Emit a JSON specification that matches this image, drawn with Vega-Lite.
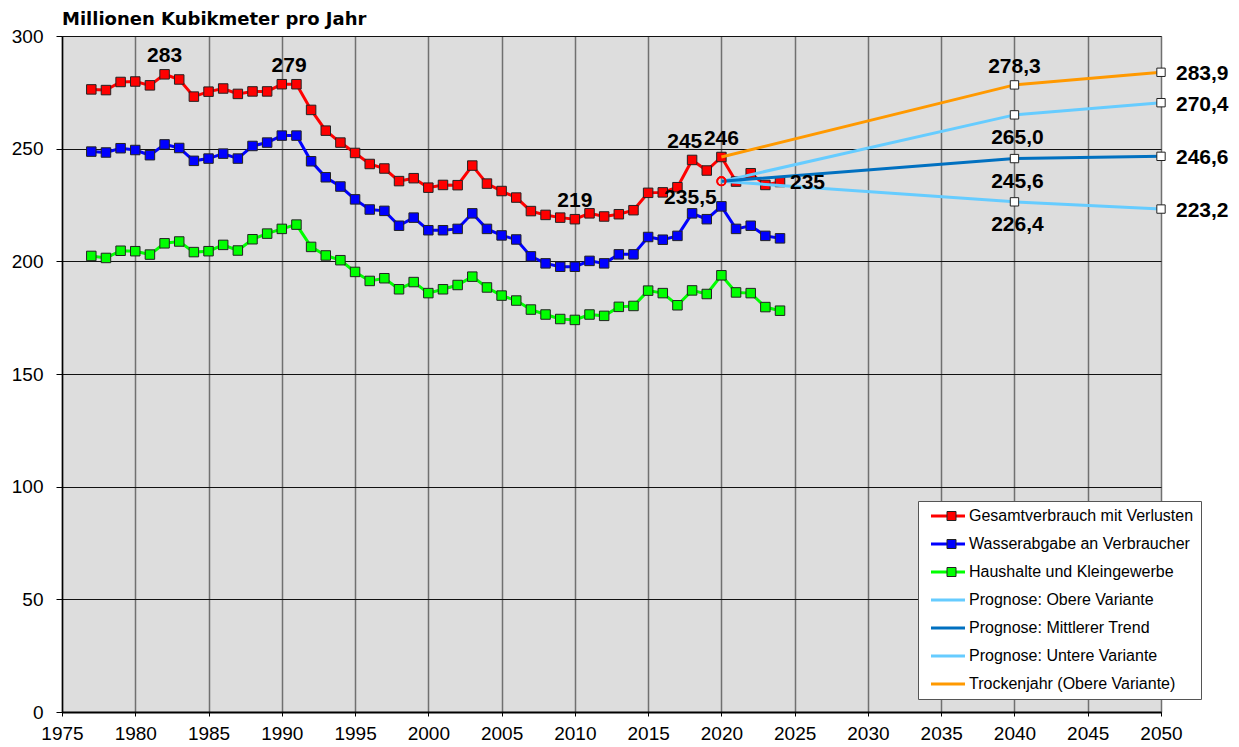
{
  "$schema": "https://vega.github.io/schema/vega-lite/v6.json",
  "width": 1099,
  "height": 676,
  "autosize": "none",
  "padding": {"left": 62, "top": 36, "right": 78, "bottom": 35},
  "background": "white",
  "title": {"text": "Millionen Kubikmeter pro Jahr", "anchor": "start", "frame": "group", "font": "DejaVu Sans", "fontSize": 18, "fontWeight": "bold", "color": "black", "baseline": "alphabetic", "offset": -16},
  "config": {
    "view": {"fill": "#dddddd", "stroke": "#555555", "strokeWidth": 1},
    "axis": {"title": null, "grid": true, "gridOpacity": 1, "domainColor": "black", "tickColor": "black", "labelFont": "Liberation Sans", "labelFontSize": 19, "labelColor": "black", "labelFlush": false, "labelOverlap": false}
  },
  "datasets": {
    "hist": [
      {"series": "Gesamtverbrauch mit Verlusten", "year": 1977, "value": 276.3},
      {"series": "Gesamtverbrauch mit Verlusten", "year": 1978, "value": 276.0},
      {"series": "Gesamtverbrauch mit Verlusten", "year": 1979, "value": 279.6},
      {"series": "Gesamtverbrauch mit Verlusten", "year": 1980, "value": 279.8},
      {"series": "Gesamtverbrauch mit Verlusten", "year": 1981, "value": 278.1},
      {"series": "Gesamtverbrauch mit Verlusten", "year": 1982, "value": 283.0},
      {"series": "Gesamtverbrauch mit Verlusten", "year": 1983, "value": 280.7},
      {"series": "Gesamtverbrauch mit Verlusten", "year": 1984, "value": 273.1},
      {"series": "Gesamtverbrauch mit Verlusten", "year": 1985, "value": 275.3},
      {"series": "Gesamtverbrauch mit Verlusten", "year": 1986, "value": 276.7},
      {"series": "Gesamtverbrauch mit Verlusten", "year": 1987, "value": 274.3},
      {"series": "Gesamtverbrauch mit Verlusten", "year": 1988, "value": 275.4},
      {"series": "Gesamtverbrauch mit Verlusten", "year": 1989, "value": 275.4},
      {"series": "Gesamtverbrauch mit Verlusten", "year": 1990, "value": 278.6},
      {"series": "Gesamtverbrauch mit Verlusten", "year": 1991, "value": 278.6},
      {"series": "Gesamtverbrauch mit Verlusten", "year": 1992, "value": 267.2},
      {"series": "Gesamtverbrauch mit Verlusten", "year": 1993, "value": 258.0},
      {"series": "Gesamtverbrauch mit Verlusten", "year": 1994, "value": 252.7},
      {"series": "Gesamtverbrauch mit Verlusten", "year": 1995, "value": 248.1},
      {"series": "Gesamtverbrauch mit Verlusten", "year": 1996, "value": 243.2},
      {"series": "Gesamtverbrauch mit Verlusten", "year": 1997, "value": 241.2},
      {"series": "Gesamtverbrauch mit Verlusten", "year": 1998, "value": 235.6},
      {"series": "Gesamtverbrauch mit Verlusten", "year": 1999, "value": 236.9},
      {"series": "Gesamtverbrauch mit Verlusten", "year": 2000, "value": 232.7},
      {"series": "Gesamtverbrauch mit Verlusten", "year": 2001, "value": 233.9},
      {"series": "Gesamtverbrauch mit Verlusten", "year": 2002, "value": 233.8},
      {"series": "Gesamtverbrauch mit Verlusten", "year": 2003, "value": 242.5},
      {"series": "Gesamtverbrauch mit Verlusten", "year": 2004, "value": 234.5},
      {"series": "Gesamtverbrauch mit Verlusten", "year": 2005, "value": 231.2},
      {"series": "Gesamtverbrauch mit Verlusten", "year": 2006, "value": 228.3},
      {"series": "Gesamtverbrauch mit Verlusten", "year": 2007, "value": 222.3},
      {"series": "Gesamtverbrauch mit Verlusten", "year": 2008, "value": 220.6},
      {"series": "Gesamtverbrauch mit Verlusten", "year": 2009, "value": 219.4},
      {"series": "Gesamtverbrauch mit Verlusten", "year": 2010, "value": 218.7},
      {"series": "Gesamtverbrauch mit Verlusten", "year": 2011, "value": 221.3},
      {"series": "Gesamtverbrauch mit Verlusten", "year": 2012, "value": 219.9},
      {"series": "Gesamtverbrauch mit Verlusten", "year": 2013, "value": 220.9},
      {"series": "Gesamtverbrauch mit Verlusten", "year": 2014, "value": 222.7},
      {"series": "Gesamtverbrauch mit Verlusten", "year": 2015, "value": 230.4},
      {"series": "Gesamtverbrauch mit Verlusten", "year": 2016, "value": 230.6},
      {"series": "Gesamtverbrauch mit Verlusten", "year": 2017, "value": 232.9},
      {"series": "Gesamtverbrauch mit Verlusten", "year": 2018, "value": 245.0},
      {"series": "Gesamtverbrauch mit Verlusten", "year": 2019, "value": 240.3},
      {"series": "Gesamtverbrauch mit Verlusten", "year": 2020, "value": 246.3},
      {"series": "Gesamtverbrauch mit Verlusten", "year": 2021, "value": 235.4},
      {"series": "Gesamtverbrauch mit Verlusten", "year": 2022, "value": 239.1},
      {"series": "Gesamtverbrauch mit Verlusten", "year": 2023, "value": 233.9},
      {"series": "Gesamtverbrauch mit Verlusten", "year": 2024, "value": 235.2},
      {"series": "Wasserabgabe an Verbraucher", "year": 1977, "value": 248.7},
      {"series": "Wasserabgabe an Verbraucher", "year": 1978, "value": 248.3},
      {"series": "Wasserabgabe an Verbraucher", "year": 1979, "value": 250.2},
      {"series": "Wasserabgabe an Verbraucher", "year": 1980, "value": 249.4},
      {"series": "Wasserabgabe an Verbraucher", "year": 1981, "value": 247.1},
      {"series": "Wasserabgabe an Verbraucher", "year": 1982, "value": 251.9},
      {"series": "Wasserabgabe an Verbraucher", "year": 1983, "value": 250.3},
      {"series": "Wasserabgabe an Verbraucher", "year": 1984, "value": 244.6},
      {"series": "Wasserabgabe an Verbraucher", "year": 1985, "value": 245.6},
      {"series": "Wasserabgabe an Verbraucher", "year": 1986, "value": 247.8},
      {"series": "Wasserabgabe an Verbraucher", "year": 1987, "value": 245.6},
      {"series": "Wasserabgabe an Verbraucher", "year": 1988, "value": 251.2},
      {"series": "Wasserabgabe an Verbraucher", "year": 1989, "value": 252.7},
      {"series": "Wasserabgabe an Verbraucher", "year": 1990, "value": 255.8},
      {"series": "Wasserabgabe an Verbraucher", "year": 1991, "value": 255.8},
      {"series": "Wasserabgabe an Verbraucher", "year": 1992, "value": 244.4},
      {"series": "Wasserabgabe an Verbraucher", "year": 1993, "value": 237.3},
      {"series": "Wasserabgabe an Verbraucher", "year": 1994, "value": 233.2},
      {"series": "Wasserabgabe an Verbraucher", "year": 1995, "value": 227.5},
      {"series": "Wasserabgabe an Verbraucher", "year": 1996, "value": 223.0},
      {"series": "Wasserabgabe an Verbraucher", "year": 1997, "value": 222.4},
      {"series": "Wasserabgabe an Verbraucher", "year": 1998, "value": 215.8},
      {"series": "Wasserabgabe an Verbraucher", "year": 1999, "value": 219.4},
      {"series": "Wasserabgabe an Verbraucher", "year": 2000, "value": 213.8},
      {"series": "Wasserabgabe an Verbraucher", "year": 2001, "value": 213.8},
      {"series": "Wasserabgabe an Verbraucher", "year": 2002, "value": 214.4},
      {"series": "Wasserabgabe an Verbraucher", "year": 2003, "value": 221.3},
      {"series": "Wasserabgabe an Verbraucher", "year": 2004, "value": 214.4},
      {"series": "Wasserabgabe an Verbraucher", "year": 2005, "value": 211.5},
      {"series": "Wasserabgabe an Verbraucher", "year": 2006, "value": 209.7},
      {"series": "Wasserabgabe an Verbraucher", "year": 2007, "value": 202.2},
      {"series": "Wasserabgabe an Verbraucher", "year": 2008, "value": 199.1},
      {"series": "Wasserabgabe an Verbraucher", "year": 2009, "value": 197.6},
      {"series": "Wasserabgabe an Verbraucher", "year": 2010, "value": 197.6},
      {"series": "Wasserabgabe an Verbraucher", "year": 2011, "value": 200.2},
      {"series": "Wasserabgabe an Verbraucher", "year": 2012, "value": 199.1},
      {"series": "Wasserabgabe an Verbraucher", "year": 2013, "value": 203.1},
      {"series": "Wasserabgabe an Verbraucher", "year": 2014, "value": 203.1},
      {"series": "Wasserabgabe an Verbraucher", "year": 2015, "value": 210.8},
      {"series": "Wasserabgabe an Verbraucher", "year": 2016, "value": 209.6},
      {"series": "Wasserabgabe an Verbraucher", "year": 2017, "value": 211.3},
      {"series": "Wasserabgabe an Verbraucher", "year": 2018, "value": 221.3},
      {"series": "Wasserabgabe an Verbraucher", "year": 2019, "value": 218.7},
      {"series": "Wasserabgabe an Verbraucher", "year": 2020, "value": 224.4},
      {"series": "Wasserabgabe an Verbraucher", "year": 2021, "value": 214.4},
      {"series": "Wasserabgabe an Verbraucher", "year": 2022, "value": 215.8},
      {"series": "Wasserabgabe an Verbraucher", "year": 2023, "value": 211.3},
      {"series": "Wasserabgabe an Verbraucher", "year": 2024, "value": 210.2},
      {"series": "Haushalte und Kleingewerbe", "year": 1977, "value": 202.4},
      {"series": "Haushalte und Kleingewerbe", "year": 1978, "value": 201.5},
      {"series": "Haushalte und Kleingewerbe", "year": 1979, "value": 204.7},
      {"series": "Haushalte und Kleingewerbe", "year": 1980, "value": 204.5},
      {"series": "Haushalte und Kleingewerbe", "year": 1981, "value": 203.0},
      {"series": "Haushalte und Kleingewerbe", "year": 1982, "value": 208.0},
      {"series": "Haushalte und Kleingewerbe", "year": 1983, "value": 208.8},
      {"series": "Haushalte und Kleingewerbe", "year": 1984, "value": 204.1},
      {"series": "Haushalte und Kleingewerbe", "year": 1985, "value": 204.5},
      {"series": "Haushalte und Kleingewerbe", "year": 1986, "value": 207.3},
      {"series": "Haushalte und Kleingewerbe", "year": 1987, "value": 204.8},
      {"series": "Haushalte und Kleingewerbe", "year": 1988, "value": 209.8},
      {"series": "Haushalte und Kleingewerbe", "year": 1989, "value": 212.3},
      {"series": "Haushalte und Kleingewerbe", "year": 1990, "value": 214.4},
      {"series": "Haushalte und Kleingewerbe", "year": 1991, "value": 216.3},
      {"series": "Haushalte und Kleingewerbe", "year": 1992, "value": 206.4},
      {"series": "Haushalte und Kleingewerbe", "year": 1993, "value": 202.6},
      {"series": "Haushalte und Kleingewerbe", "year": 1994, "value": 200.5},
      {"series": "Haushalte und Kleingewerbe", "year": 1995, "value": 195.3},
      {"series": "Haushalte und Kleingewerbe", "year": 1996, "value": 191.3},
      {"series": "Haushalte und Kleingewerbe", "year": 1997, "value": 192.5},
      {"series": "Haushalte und Kleingewerbe", "year": 1998, "value": 187.6},
      {"series": "Haushalte und Kleingewerbe", "year": 1999, "value": 190.8},
      {"series": "Haushalte und Kleingewerbe", "year": 2000, "value": 185.9},
      {"series": "Haushalte und Kleingewerbe", "year": 2001, "value": 187.6},
      {"series": "Haushalte und Kleingewerbe", "year": 2002, "value": 189.5},
      {"series": "Haushalte und Kleingewerbe", "year": 2003, "value": 193.2},
      {"series": "Haushalte und Kleingewerbe", "year": 2004, "value": 188.4},
      {"series": "Haushalte und Kleingewerbe", "year": 2005, "value": 184.8},
      {"series": "Haushalte und Kleingewerbe", "year": 2006, "value": 182.6},
      {"series": "Haushalte und Kleingewerbe", "year": 2007, "value": 178.6},
      {"series": "Haushalte und Kleingewerbe", "year": 2008, "value": 176.4},
      {"series": "Haushalte und Kleingewerbe", "year": 2009, "value": 174.4},
      {"series": "Haushalte und Kleingewerbe", "year": 2010, "value": 174.0},
      {"series": "Haushalte und Kleingewerbe", "year": 2011, "value": 176.4},
      {"series": "Haushalte und Kleingewerbe", "year": 2012, "value": 175.8},
      {"series": "Haushalte und Kleingewerbe", "year": 2013, "value": 179.8},
      {"series": "Haushalte und Kleingewerbe", "year": 2014, "value": 180.2},
      {"series": "Haushalte und Kleingewerbe", "year": 2015, "value": 187.0},
      {"series": "Haushalte und Kleingewerbe", "year": 2016, "value": 185.9},
      {"series": "Haushalte und Kleingewerbe", "year": 2017, "value": 180.5},
      {"series": "Haushalte und Kleingewerbe", "year": 2018, "value": 187.1},
      {"series": "Haushalte und Kleingewerbe", "year": 2019, "value": 185.5},
      {"series": "Haushalte und Kleingewerbe", "year": 2020, "value": 193.8},
      {"series": "Haushalte und Kleingewerbe", "year": 2021, "value": 186.2},
      {"series": "Haushalte und Kleingewerbe", "year": 2022, "value": 185.9},
      {"series": "Haushalte und Kleingewerbe", "year": 2023, "value": 179.7},
      {"series": "Haushalte und Kleingewerbe", "year": 2024, "value": 178.1}
    ],
    "prog": [
      {"series": "Prognose: Untere Variante", "year": 2020, "value": 235.5},
      {"series": "Prognose: Untere Variante", "year": 2040, "value": 226.4},
      {"series": "Prognose: Untere Variante", "year": 2050, "value": 223.2},
      {"series": "Prognose: Obere Variante", "year": 2020, "value": 235.5},
      {"series": "Prognose: Obere Variante", "year": 2040, "value": 265.0},
      {"series": "Prognose: Obere Variante", "year": 2050, "value": 270.4},
      {"series": "Prognose: Mittlerer Trend", "year": 2020, "value": 235.5},
      {"series": "Prognose: Mittlerer Trend", "year": 2040, "value": 245.6},
      {"series": "Prognose: Mittlerer Trend", "year": 2050, "value": 246.6},
      {"series": "Trockenjahr (Obere Variante)", "year": 2020, "value": 246.3},
      {"series": "Trockenjahr (Obere Variante)", "year": 2040, "value": 278.3},
      {"series": "Trockenjahr (Obere Variante)", "year": 2050, "value": 283.9}
    ],
    "labelsAbove": [
      {"label": "283", "year": 1982, "value": 283.0},
      {"label": "279", "year": 1990.5, "value": 278.6},
      {"label": "219", "year": 2010, "value": 218.7},
      {"label": "245", "year": 2017.5, "value": 245.0},
      {"label": "246", "year": 2020, "value": 246.3},
      {"label": "278,3", "year": 2040, "value": 278.3}
    ],
    "labelsBelow": [
      {"label": "265,0", "year": 2040, "value": 265.0},
      {"label": "245,6", "year": 2040, "value": 245.6},
      {"label": "226,4", "year": 2040, "value": 226.4}
    ],
    "labelsRight": [
      {"label": "283,9", "year": 2050, "value": 283.9},
      {"label": "270,4", "year": 2050, "value": 270.4},
      {"label": "246,6", "year": 2050, "value": 246.6},
      {"label": "223,2", "year": 2050, "value": 223.2}
    ],
    "labelBase": [
      {"label": "235,5", "year": 2020, "value": 235.5}
    ],
    "labelLast": [
      {"label": "235", "year": 2024, "value": 235.2}
    ]
  },
  "encoding": {
    "x": {"field": "year", "type": "quantitative", "scale": {"domain": [1975, 2050], "nice": false, "zero": false},
      "axis": {"values": [1975, 1980, 1985, 1990, 1995, 2000, 2005, 2010, 2015, 2020, 2025, 2030, 2035, 2040, 2045, 2050], "format": "d", "domainWidth": 2, "tickSize": 4, "labelPadding": 8, "gridColor": "#707070", "gridWidth": 1.5}},
    "y": {"field": "value", "type": "quantitative", "scale": {"domain": [0, 300], "nice": false},
      "axis": {"values": [0, 50, 100, 150, 200, 250, 300], "domainWidth": 1.5, "tickSize": 6, "labelPadding": 13, "gridColor": "#111111", "gridWidth": 1}}
  },
  "layer": [
    {
      "data": {"name": "hist"},
      "mark": {"type": "line", "strokeWidth": 3},
      "encoding": {
        "color": {"field": "series", "type": "nominal",
          "scale": {
            "domain": ["Gesamtverbrauch mit Verlusten", "Wasserabgabe an Verbraucher", "Haushalte und Kleingewerbe", "Prognose: Obere Variante", "Prognose: Mittlerer Trend", "Prognose: Untere Variante", "Trockenjahr (Obere Variante)"],
            "range": ["#ff0000", "#0000ff", "#00ff00", "#66ccff", "#0070c0", "#66ccff", "#ff9900"]
          },
          "legend": {
            "title": null, "orient": "none", "legendX": 856, "legendY": 465, "zindex": 1,
            "fillColor": "white", "strokeColor": "#555555", "padding": 7,
            "labelFont": "Liberation Sans", "labelFontSize": 16, "labelColor": "black", "labelLimit": 400,
            "symbolSize": 256, "rowPadding": 12, "labelOffset": 28,
            "encode": {
              "symbols": {
                "update": {
                  "shape": {"value": "M-0.25,-0.19H4V0.19H-0.25Z"},
                  "fill": {"scale": "color", "field": "value"},
                  "fillOpacity": {"value": 1},
                  "stroke": {"value": "transparent"},
                  "strokeWidth": {"value": 0}
                }
              }
            }
          }
        }
      }
    },
    {
      "data": {"name": "hist"},
      "mark": {"type": "point", "shape": "square", "filled": true, "size": 90, "stroke": "#222222", "strokeWidth": 1, "opacity": 1},
      "encoding": {
        "fill": {"field": "series", "type": "nominal",
          "scale": {"domain": ["Gesamtverbrauch mit Verlusten", "Wasserabgabe an Verbraucher", "Haushalte und Kleingewerbe"], "range": ["#ff0000", "#0000ff", "#00ff00"]},
          "legend": {
            "title": null, "orient": "none", "legendX": 874.5, "legendY": 465, "zindex": 2,
            "padding": 7, "labelFont": "Liberation Sans", "labelFontSize": 16, "labelColor": "black", "labelExpr": "' '",
            "symbolType": "square", "symbolSize": 81, "rowPadding": 12, "symbolStrokeColor": "#222222", "symbolStrokeWidth": 1, "symbolOpacity": 1
          }
        }
      }
    },
    {
      "data": {"name": "prog"},
      "mark": {"type": "line", "strokeWidth": 3},
      "encoding": {"color": {"field": "series", "type": "nominal"}}
    },
    {
      "data": {"name": "prog"},
      "transform": [{"filter": "datum.year >= 2040"}],
      "mark": {"type": "point", "shape": "square", "filled": true, "fill": "white", "stroke": "#222222", "strokeWidth": 1, "size": 70, "opacity": 1}
    },
    {
      "data": {"name": "prog"},
      "transform": [{"filter": "datum.year == 2020 && datum.value < 240"}],
      "mark": {"type": "point", "shape": "circle", "filled": false, "stroke": "#ff0000", "strokeWidth": 1.6, "size": 70, "opacity": 1}
    },
    {
      "data": {"name": "labelsAbove"},
      "mark": {"type": "text", "font": "Liberation Sans", "fontSize": 21, "fontWeight": "bold", "color": "black", "align": "center", "baseline": "middle", "dy": -18},
      "encoding": {"text": {"field": "label"}}
    },
    {
      "data": {"name": "labelsBelow"},
      "mark": {"type": "text", "font": "Liberation Sans", "fontSize": 21, "fontWeight": "bold", "color": "black", "align": "center", "baseline": "middle", "dy": 23, "dx": 3},
      "encoding": {"text": {"field": "label"}}
    },
    {
      "data": {"name": "labelsRight"},
      "mark": {"type": "text", "font": "Liberation Sans", "fontSize": 21, "fontWeight": "bold", "color": "black", "align": "left", "baseline": "middle", "dx": 15, "dy": 2},
      "encoding": {"text": {"field": "label"}}
    },
    {
      "data": {"name": "labelBase"},
      "mark": {"type": "text", "font": "Liberation Sans", "fontSize": 21, "fontWeight": "bold", "color": "black", "align": "center", "baseline": "middle", "dx": -31, "dy": 17},
      "encoding": {"text": {"field": "label"}}
    },
    {
      "data": {"name": "labelLast"},
      "mark": {"type": "text", "font": "Liberation Sans", "fontSize": 21, "fontWeight": "bold", "color": "black", "align": "left", "baseline": "middle", "dx": 10, "dy": 1},
      "encoding": {"text": {"field": "label"}}
    }
  ]
}
